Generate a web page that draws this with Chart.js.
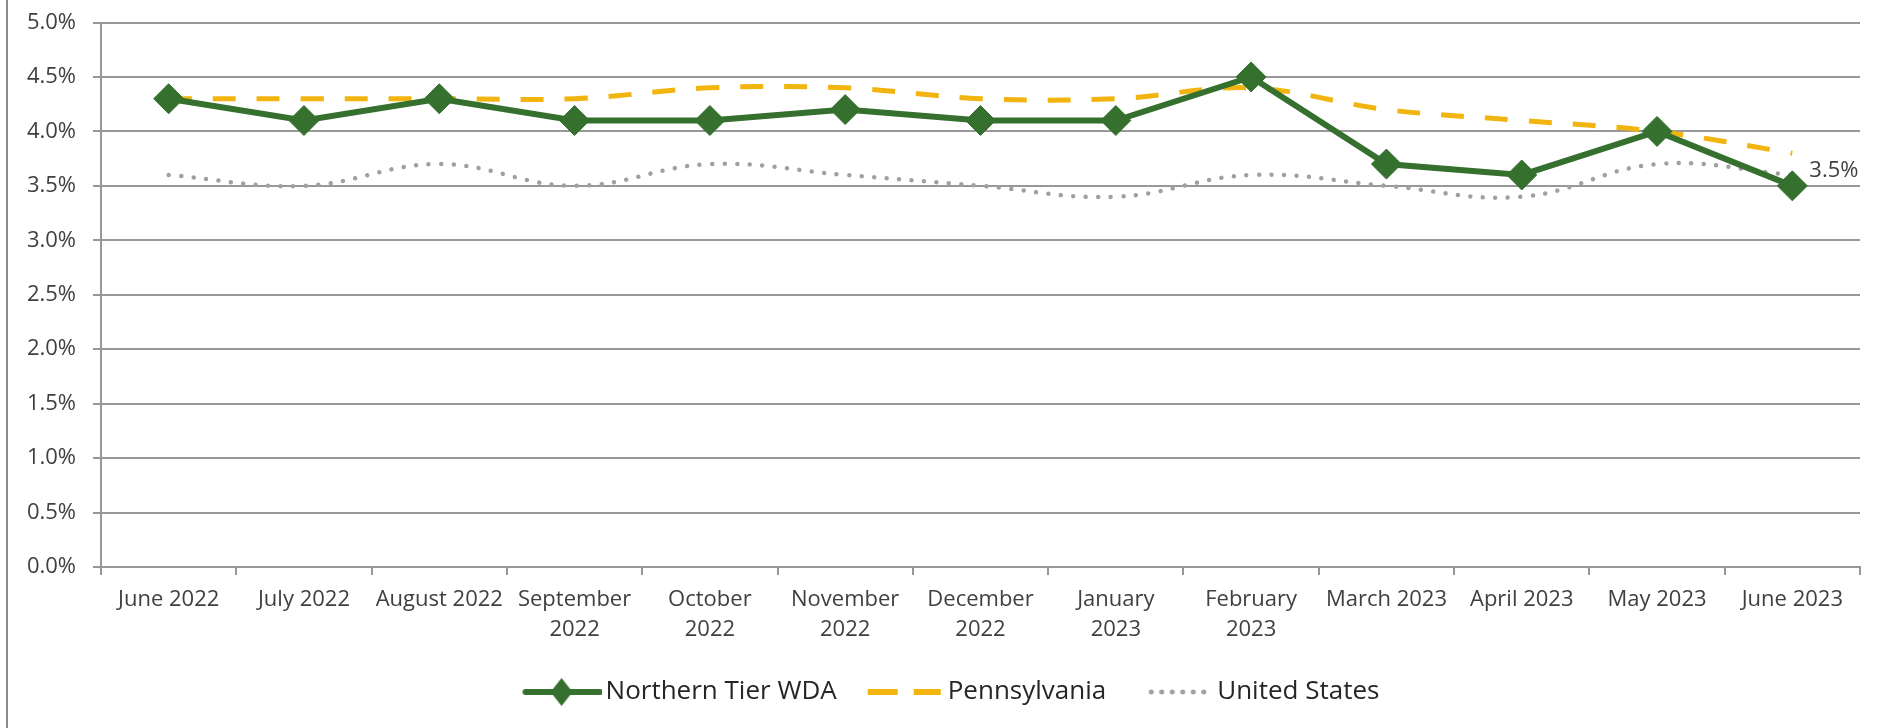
<!DOCTYPE html>
<html>
<head>
<meta charset="utf-8">
<script src="https://cdn.jsdelivr.net/npm/chart.js@4/dist/chart.umd.min.js"></script>
<style>
  html, body { margin: 0; padding: 0; background: #fff; }
  #wrap { position: relative; width: 1883px; height: 728px; }
  #rate-chart { position: absolute; left: 0; top: 0; }
  #frame { position: absolute; left: 6px; top: 0; bottom: 0; border-left: 2px solid #8c8c8c; }
</style>
</head>
<body>
<div id="wrap">
  <canvas id="rate-chart" width="1883" height="728"></canvas>
  <div id="frame"></div>
</div>
<script>
// meses (rótulos em duas linhas quando o Excel quebrou)
const months = [
  "June 2022", "July 2022", "August 2022", ["September", "2022"], ["October", "2022"],
  ["November", "2022"], ["December", "2022"], ["January", "2023"], ["February", "2023"],
  "March 2023", "April 2023", "May 2023", "June 2023"
];

// taxas de desemprego (%)
const northernTier = [4.3, 4.1, 4.3, 4.1, 4.1, 4.2, 4.1, 4.1, 4.5, 3.7, 3.6, 4.0, 3.5];
const pennsylvania = [4.3, 4.3, 4.3, 4.3, 4.4, 4.4, 4.3, 4.3, 4.4, 4.2, 4.1, 4.0, 3.8];
const unitedStates = [3.6, 3.5, 3.7, 3.5, 3.7, 3.6, 3.5, 3.4, 3.6, 3.5, 3.4, 3.7, 3.6];

const seriesNames = ["Northern Tier WDA", "Pennsylvania", "United States"];
const yMin = 0, yMax = 5, yStep = 0.5;

const GREEN = "#35702e";
const GOLD = "#f2b50f";
const GREY = "#a0a0a0";
const GRID = "#989898";
const TEXT = "#404040";

Chart.defaults.font.family = '"Open Sans", sans-serif';
Chart.defaults.color = TEXT;

// amostras da legenda desenhadas num canvas pequeno
function legendSample(kind) {
  const c = document.createElement("canvas");
  c.width = 84;
  c.height = 32;
  const g = c.getContext("2d");
  if (kind === 0) {
    g.strokeStyle = GREEN;
    g.lineWidth = 6;
    g.lineCap = "round";
    g.beginPath(); g.moveTo(8, 16); g.lineTo(82, 16); g.stroke();
    g.fillStyle = GREEN;
    g.beginPath();
    g.moveTo(44, 2); g.lineTo(55, 16); g.lineTo(44, 30); g.lineTo(33, 16);
    g.closePath(); g.fill();
  } else if (kind === 1) {
    g.fillStyle = GOLD;
    g.fillRect(8, 13, 30, 6);
    g.fillRect(54, 13, 27, 6);
  } else {
    g.fillStyle = GREY;
    for (let i = 0; i < 6; i++) {
      g.beginPath(); g.arc(22 + i * 10.5, 16, 2.5, 0, Math.PI * 2); g.fill();
    }
  }
  return c;
}
const samples = [legendSample(0), legendSample(1), legendSample(2)];

// rótulo do último ponto (3.5%)
const lastLabelPlugin = {
  id: "lastLabel",
  afterDatasetsDraw(chart) {
    const i = northernTier.length - 1;
    const pt = chart.getDatasetMeta(0).data[i];
    const ctx = chart.ctx;
    ctx.save();
    ctx.font = '22px "Open Sans"';
    ctx.fillStyle = TEXT;
    ctx.textAlign = "left";
    ctx.textBaseline = "middle";
    ctx.fillText(northernTier[i].toFixed(1) + "%", pt.x + 17, pt.y - 15);
    ctx.restore();
  }
};

// desloca a legenda um pouco para a direita, como no original
const legendShiftPlugin = {
  id: "legendShift",
  afterLayout(chart) {
    if (chart.legend) {
      chart.legend.left += 18;
      chart.legend.right += 18;
    }
  }
};

const ctx = document.getElementById("rate-chart").getContext("2d");
new Chart(ctx, {
  type: "line",
  data: {
    labels: months,
    datasets: [
      {
        label: seriesNames[0],
        data: northernTier,
        borderColor: GREEN,
        backgroundColor: GREEN,
        borderWidth: 6,
        pointStyle: "rectRot",
        pointRadius: 15,
        pointBorderWidth: 1,
        tension: 0
      },
      {
        label: seriesNames[1],
        data: pennsylvania,
        borderColor: GOLD,
        borderWidth: 5,
        borderDash: [23, 21],
        pointRadius: 0,
        tension: 0.35
      },
      {
        label: seriesNames[2],
        data: unitedStates,
        borderColor: GREY,
        borderWidth: 4.5,
        borderDash: [0.01, 12.5],
        borderCapStyle: "round",
        pointRadius: 0,
        tension: 0.4
      }
    ]
  },
  options: {
    responsive: false,
    animation: false,
    layout: { padding: { left: 10, right: 23, top: 22, bottom: 13 } },
    scales: {
      x: {
        offset: true,
        afterFit: function (s) { s.height = 80; },
        grid: {
          display: true,
          drawOnChartArea: false,
          drawTicks: true,
          tickLength: 8,
          offset: true,
          color: GRID,
          lineWidth: 2
        },
        border: { color: GRID, width: 2 },
        ticks: {
          maxRotation: 0,
          autoSkip: false,
          padding: 10,
          font: { size: 22, lineHeight: 1.36 },
          color: TEXT
        }
      },
      y: {
        min: yMin,
        max: yMax,
        afterFit: function (s) { s.width = 91; },
        grid: { color: GRID, lineWidth: 2, tickLength: 8 },
        border: { color: GRID, width: 2 },
        ticks: {
          stepSize: yStep,
          padding: 17,
          font: { size: 22, lineHeight: 0.5 },
          color: TEXT,
          callback: function (v) { return v.toFixed(1) + "%"; }
        }
      }
    },
    plugins: {
      tooltip: { enabled: false },
      legend: {
        position: "bottom",
        labels: {
          usePointStyle: true,
          pointStyleWidth: 66,
          padding: 32,
          color: "#262626",
          font: { size: 26 },
          generateLabels: function (chart) {
            const items = Chart.defaults.plugins.legend.labels.generateLabels(chart);
            items.forEach(function (item, i) { item.pointStyle = samples[i]; });
            return items;
          }
        }
      }
    }
  },
  plugins: [lastLabelPlugin, legendShiftPlugin]
});
</script>
</body>
</html>
